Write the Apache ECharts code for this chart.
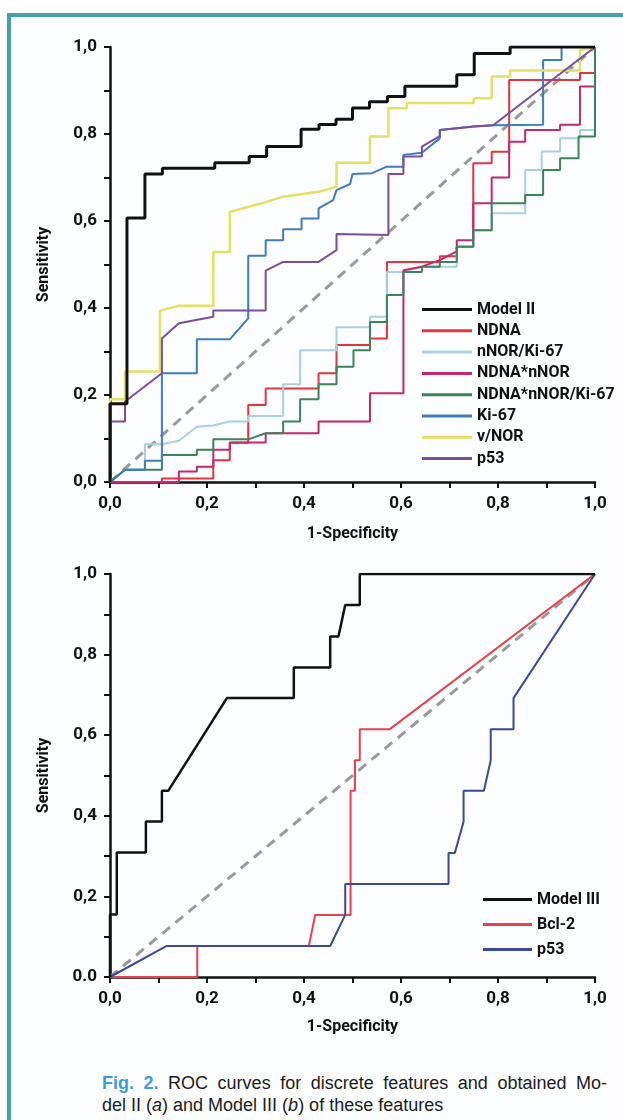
<!DOCTYPE html>
<html>
<head>
<meta charset="utf-8">
<script src="https://cdn.jsdelivr.net/npm/echarts@6/dist/echarts.min.js"></script>
<style>
html, body { margin: 0; padding: 0; background: #fff; }
#frame {
  position: absolute; left: 7px; top: 13px; width: 616px; height: 1107px;
  border-top: 4px solid #44a2ab; border-left: 4px solid #44a2ab;
  background: #fbfdff; box-sizing: border-box;
}
#chart { position: absolute; left: 0; top: 0; width: 623px; height: 1060px; }
.cap {
  position: absolute; left: 102px;
  font: 18px 'Liberation Sans', Arial, sans-serif; line-height: 22px; color: #1c1c1c;
  white-space: nowrap;
}
#cap1 { top: 1072px; width: 505px; text-align: justify; text-align-last: justify; white-space: normal; }
#cap2 { top: 1094px; }
.cap b { color: #3b9fd6; }
</style>
</head>
<body>
<div id="frame"></div>
<div id="chart"></div>
<div id="cap1" class="cap"><b>Fig. 2.</b> ROC curves for discrete features and obtained Mo-</div>
<div id="cap2" class="cap">del II (<i>a</i>) and Model III (<i>b</i>) of these features</div>
<script>
// tick labels
const xLabels = ['0,0', '0,2', '0,4', '0,6', '0,8', '1,0'];
const yLabelsA = ['0,0', '0,2', '0,4', '0,6', '0,8', '1,0'];
const yLabelsB = ['0.0', '0,2', '0,4', '0,6', '0,8', '1,0'];

// (a) Model II and its features: [1-specificity, sensitivity]
const modelII = [[0,0],[0,0.18],[0.035,0.18],[0.035,0.607],[0.072,0.607],[0.072,0.708],[0.108,0.708],[0.108,0.721],[0.216,0.721],[0.216,0.734],[0.287,0.734],[0.287,0.748],[0.323,0.748],[0.323,0.771],[0.394,0.771],[0.394,0.811],[0.431,0.811],[0.431,0.822],[0.466,0.822],[0.466,0.834],[0.5,0.834],[0.5,0.86],[0.535,0.86],[0.535,0.874],[0.572,0.874],[0.572,0.886],[0.608,0.886],[0.608,0.91],[0.715,0.91],[0.715,0.936],[0.751,0.936],[0.751,0.985],[0.825,0.985],[0.825,1],[1,1]];
const ndna = [[0,0],[0.107,0],[0.107,0.008],[0.213,0.008],[0.213,0.05],[0.247,0.05],[0.247,0.09],[0.285,0.09],[0.285,0.177],[0.321,0.177],[0.321,0.215],[0.43,0.215],[0.43,0.25],[0.467,0.25],[0.467,0.315],[0.536,0.315],[0.536,0.33],[0.571,0.33],[0.571,0.506],[0.68,0.506],[0.68,0.519],[0.715,0.519],[0.715,0.541],[0.749,0.541],[0.749,0.733],[0.787,0.733],[0.787,0.759],[0.823,0.759],[0.823,0.924],[0.969,0.924],[0.969,0.94],[1,0.94],[1,1]];
const nnorKi67 = [[0,0],[0.031,0.028],[0.072,0.028],[0.072,0.087],[0.107,0.087],[0.142,0.095],[0.179,0.127],[0.213,0.13],[0.247,0.139],[0.285,0.139],[0.285,0.152],[0.357,0.152],[0.357,0.225],[0.392,0.225],[0.392,0.303],[0.467,0.303],[0.467,0.356],[0.536,0.356],[0.536,0.38],[0.571,0.38],[0.571,0.483],[0.605,0.483],[0.643,0.495],[0.715,0.495],[0.715,0.541],[0.749,0.541],[0.749,0.579],[0.787,0.579],[0.787,0.618],[0.856,0.618],[0.856,0.717],[0.89,0.717],[0.89,0.76],[0.928,0.76],[0.928,0.79],[0.969,0.79],[0.969,0.809],[1,0.809],[1,1]];
const ndnaNnor = [[0,0],[0.142,0],[0.142,0.024],[0.179,0.024],[0.179,0.035],[0.213,0.035],[0.213,0.074],[0.247,0.074],[0.247,0.091],[0.321,0.091],[0.321,0.112],[0.43,0.112],[0.43,0.139],[0.536,0.139],[0.536,0.204],[0.605,0.204],[0.605,0.487],[0.643,0.495],[0.68,0.51],[0.715,0.53],[0.715,0.556],[0.749,0.556],[0.749,0.641],[0.787,0.641],[0.787,0.7],[0.823,0.7],[0.823,0.782],[0.856,0.782],[0.856,0.809],[0.928,0.809],[0.928,0.821],[0.969,0.821],[0.969,0.909],[1,0.909],[1,1]];
const ndnaNnorKi67 = [[0,0],[0.031,0.028],[0.107,0.028],[0.107,0.062],[0.179,0.062],[0.179,0.074],[0.213,0.074],[0.213,0.098],[0.285,0.098],[0.321,0.112],[0.357,0.112],[0.357,0.139],[0.392,0.139],[0.392,0.19],[0.43,0.19],[0.43,0.225],[0.467,0.225],[0.467,0.265],[0.502,0.265],[0.502,0.303],[0.536,0.303],[0.536,0.368],[0.571,0.368],[0.571,0.43],[0.605,0.43],[0.605,0.483],[0.643,0.483],[0.643,0.495],[0.68,0.495],[0.68,0.506],[0.715,0.506],[0.715,0.541],[0.749,0.541],[0.749,0.579],[0.787,0.579],[0.787,0.641],[0.856,0.641],[0.856,0.66],[0.893,0.66],[0.893,0.717],[0.928,0.717],[0.928,0.744],[0.966,0.744],[0.966,0.794],[1,0.794],[1,1]];
const ki67 = [[0,0],[0.031,0.028],[0.072,0.028],[0.072,0.049],[0.107,0.049],[0.107,0.25],[0.179,0.25],[0.179,0.328],[0.247,0.328],[0.285,0.376],[0.285,0.52],[0.321,0.52],[0.321,0.556],[0.357,0.556],[0.357,0.581],[0.395,0.581],[0.395,0.606],[0.43,0.606],[0.43,0.629],[0.46,0.648],[0.467,0.671],[0.495,0.685],[0.5,0.708],[0.54,0.71],[0.571,0.725],[0.605,0.725],[0.605,0.752],[0.643,0.757],[0.68,0.79],[0.68,0.809],[0.75,0.817],[0.79,0.82],[0.893,0.821],[0.893,0.97],[0.931,0.97],[0.931,1],[1,1]];
const vNor = [[0,0],[0,0.19],[0.031,0.19],[0.031,0.254],[0.103,0.254],[0.103,0.394],[0.142,0.405],[0.213,0.405],[0.213,0.529],[0.247,0.529],[0.247,0.621],[0.287,0.633],[0.323,0.644],[0.357,0.656],[0.43,0.667],[0.467,0.679],[0.467,0.734],[0.536,0.734],[0.536,0.794],[0.574,0.794],[0.574,0.859],[0.612,0.859],[0.612,0.871],[0.75,0.871],[0.75,0.882],[0.787,0.882],[0.787,0.932],[0.825,0.932],[0.825,0.946],[0.969,0.946],[0.969,0.993],[1,1]];
const p53a = [[0,0],[0,0.139],[0.031,0.139],[0.031,0.185],[0.107,0.25],[0.107,0.33],[0.142,0.365],[0.213,0.38],[0.213,0.394],[0.321,0.394],[0.321,0.486],[0.357,0.506],[0.43,0.506],[0.467,0.533],[0.467,0.57],[0.574,0.568],[0.574,0.708],[0.605,0.708],[0.605,0.748],[0.643,0.748],[0.643,0.771],[0.68,0.795],[0.68,0.809],[0.75,0.817],[0.79,0.82],[1,1]];

// (b) Model III and its features
const modelIII = [[0,0],[0,0.155],[0.014,0.155],[0.014,0.309],[0.074,0.309],[0.074,0.386],[0.107,0.386],[0.107,0.462],[0.12,0.462],[0.241,0.692],[0.379,0.692],[0.379,0.768],[0.454,0.768],[0.454,0.845],[0.471,0.845],[0.485,0.923],[0.515,0.923],[0.515,1],[1,1]];
const bcl2 = [[0,0],[0.18,0],[0.18,0.077],[0.41,0.077],[0.423,0.154],[0.496,0.154],[0.496,0.462],[0.505,0.462],[0.505,0.538],[0.515,0.538],[0.515,0.615],[0.577,0.615],[1,1]];
const p53b = [[0,0],[0.117,0.077],[0.454,0.077],[0.485,0.154],[0.485,0.231],[0.698,0.231],[0.698,0.308],[0.711,0.308],[0.729,0.385],[0.729,0.462],[0.771,0.462],[0.785,0.538],[0.785,0.615],[0.832,0.615],[0.832,0.692],[1,1]];

const chance = [[0,0],[1,1]];

const FONT = "Roboto, 'Liberation Sans', sans-serif";
const INK = '#111';

function xAxisCfg(gridIndex) {
  return {
    gridIndex, type: 'value', min: 0, max: 1, interval: 0.2,
    name: '1-Specificity', nameLocation: 'middle', nameGap: gridIndex ? 42 : 44,
    nameTextStyle: { fontFamily: FONT, fontWeight: 'bold', fontSize: 16, color: INK },
    axisLine: { show: true, lineStyle: { color: INK, width: 2.5 } },
    axisTick: { show: true, length: 6, lineStyle: { color: INK, width: 2 } },
    minorTick: { show: true, splitNumber: 2, length: 6, lineStyle: { color: INK, width: 2 } },
    splitLine: { show: false },
    axisLabel: {
      margin: 13, fontFamily: FONT, fontWeight: 'bold', fontSize: 17, color: INK,
      formatter: v => xLabels[Math.round(v / 0.2)]
    }
  };
}

function yAxisCfg(gridIndex, labels) {
  return {
    gridIndex, type: 'value', min: 0, max: 1, interval: 0.2,
    name: 'Sensitivity', nameLocation: 'middle', nameGap: 58,
    nameTextStyle: { fontFamily: FONT, fontWeight: 'bold', fontSize: 16, color: INK },
    axisLine: { show: true, lineStyle: { color: INK, width: 2.5 } },
    axisTick: { show: true, length: 6, lineStyle: { color: INK, width: 2 } },
    minorTick: { show: true, splitNumber: 2, length: 6, lineStyle: { color: INK, width: 2 } },
    splitLine: { show: false },
    axisLabel: {
      margin: 13, fontFamily: FONT, fontWeight: 'bold', fontSize: 17, color: INK,
      formatter: v => labels[Math.round(v / 0.2)]
    }
  };
}

function curve(name, data, color, width, g) {
  return {
    name, type: 'line', data, xAxisIndex: g, yAxisIndex: g,
    showSymbol: false, symbol: 'none', animation: false,
    itemStyle: { color }, lineStyle: { color, width }
  };
}

function chanceLine(g) {
  return {
    type: 'line', data: chance, xAxisIndex: g, yAxisIndex: g,
    showSymbol: false, symbol: 'none', animation: false, silent: true,
    lineStyle: { color: '#9a9a9a', width: 3, type: [10, 7] }
  };
}

const legendText = { fontFamily: FONT, fontWeight: 'bold', fontSize: 16, color: INK, lineHeight: 17 };

const chart = echarts.init(document.getElementById('chart'), null, { renderer: 'canvas' });
chart.setOption({
  backgroundColor: 'transparent',
  animation: false,
  grid: [
    { left: 110, top: 47, width: 485, height: 435 },
    { left: 110, top: 574, width: 485, height: 403 }
  ],
  xAxis: [xAxisCfg(0), xAxisCfg(1)],
  yAxis: [yAxisCfg(0, yLabelsA), yAxisCfg(1, yLabelsB)],
  legend: [
    {
      data: ['Model II', 'NDNA', 'nNOR/Ki-67', 'NDNA*nNOR', 'NDNA*nNOR/Ki-67', 'Ki-67', 'v/NOR', 'p53'],
      orient: 'vertical', left: 422, top: 301, itemWidth: 50, itemHeight: 3, itemGap: 4.3,
      icon: 'rect', selectedMode: false, textStyle: legendText, padding: 0
    },
    {
      data: ['Model III', 'Bcl-2', 'p53 '],
      orient: 'vertical', left: 483, top: 891, itemWidth: 49, itemHeight: 3, itemGap: 8,
      icon: 'rect', selectedMode: false, textStyle: legendText, padding: 0,
      formatter: n => n.trim()
    }
  ],
  series: [
    chanceLine(0),
    curve('NDNA', ndna, '#e3343f', 2, 0),
    curve('nNOR/Ki-67', nnorKi67, '#a9cfe4', 2, 0),
    curve('NDNA*nNOR', ndnaNnor, '#c4286e', 2, 0),
    curve('NDNA*nNOR/Ki-67', ndnaNnorKi67, '#3c8358', 2, 0),
    curve('Ki-67', ki67, '#3f7cc0', 2, 0),
    curve('v/NOR', vNor, '#e6e062', 2.5, 0),
    curve('p53', p53a, '#7a4e9c', 2, 0),
    curve('Model II', modelII, '#111111', 3, 0),
    chanceLine(1),
    curve('Bcl-2', bcl2, '#e8404c', 2, 1),
    curve('p53 ', p53b, '#3b4a96', 2, 1),
    curve('Model III', modelIII, '#111111', 2.5, 1)
  ]
});
</script>
</body>
</html>
